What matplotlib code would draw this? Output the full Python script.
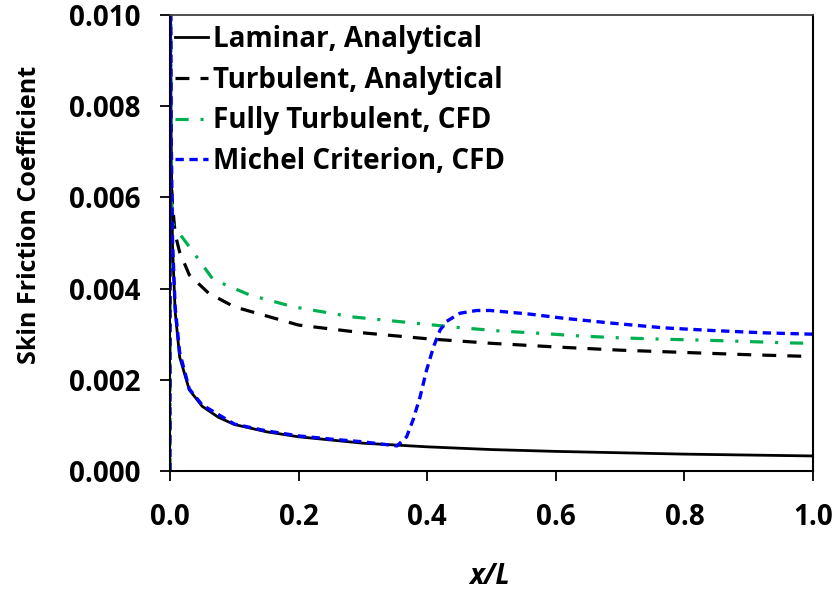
# Coeficiente de atrito: soluções analíticas vs. CFD ao longo da placa
import matplotlib.pyplot as plt

plt.rcParams["font.family"] = ["Open Sans", "DejaVu Sans"]
plt.rcParams["font.weight"] = "bold"
plt.rcParams["lines.scale_dashes"] = False

# valores
lam_x = [0.0005, 0.001, 0.002, 0.004, 0.008, 0.015, 0.03, 0.05, 0.075, 0.1,
         0.15, 0.2, 0.3, 0.4, 0.5, 0.6, 0.7, 0.8, 0.9, 1.0]
lam_cf = [0.0125, 0.0092, 0.0068, 0.0049, 0.0035, 0.0025, 0.00178, 0.00142, 0.00118, 0.00102,
          0.00086, 0.00075, 0.00061, 0.00053, 0.00047, 0.00043, 0.0004, 0.00037, 0.00035, 0.00033]

turb_x = [0.0001, 0.0003, 0.001, 0.003, 0.008, 0.015, 0.03, 0.06, 0.1, 0.15,
          0.2, 0.3, 0.4, 0.5, 0.6, 0.7, 0.8, 0.9, 1.0]
turb_cf = [0.0100, 0.0085, 0.0070, 0.0060, 0.0052, 0.0048, 0.0043, 0.0039, 0.0036, 0.0034,
           0.0032, 0.00303, 0.0029, 0.0028, 0.00272, 0.00265, 0.0026, 0.00255, 0.00251]

ft_x = [0.0, 0.0008, 0.002, 0.005, 0.015, 0.031, 0.067, 0.124, 0.192, 0.283,
        0.347, 0.446, 0.513, 0.575, 0.638, 0.7, 0.767, 0.829, 0.897, 0.959, 1.0]
ft_cf = [0.0, 0.0125, 0.0058, 0.0054, 0.0052, 0.0049, 0.0042, 0.00386, 0.0036, 0.00338,
         0.00329, 0.00315, 0.00307, 0.00302, 0.00296, 0.00292, 0.00289, 0.00287, 0.00284, 0.00281, 0.0028]

mc_x = [0.0, 0.0008, 0.002, 0.004, 0.008, 0.015, 0.03, 0.05, 0.1, 0.15,
        0.2, 0.25, 0.3, 0.353, 0.368, 0.378, 0.389, 0.399, 0.41, 0.42,
        0.43, 0.451, 0.477, 0.498, 0.56, 0.612, 0.689, 0.767, 0.845, 0.923, 1.0]
mc_cf = [0.0, 0.0125, 0.0072, 0.0050, 0.0036, 0.0026, 0.0018, 0.00145, 0.00103, 0.00088,
         0.00077, 0.0007, 0.00064, 0.00055, 0.00075, 0.00112, 0.00163, 0.00221, 0.00273, 0.00309,
         0.00328, 0.00346, 0.00352, 0.00352, 0.00344, 0.00335, 0.00324, 0.00314, 0.00308, 0.00303, 0.003]

labels = ["Laminar, Analytical", "Turbulent, Analytical",
          "Fully Turbulent, CFD", "Michel Criterion, CFD"]

fig = plt.figure(figsize=(8.39, 5.99), dpi=100)
ax = fig.add_axes([170 / 839, 128 / 599, 643 / 839, 456 / 599])

ax.plot(lam_x, lam_cf, color="black", linewidth=2.0, label=labels[0])
ax.plot(turb_x, turb_cf, color="black", linewidth=2.3, dashes=(10, 8), label=labels[1])
ax.plot(ft_x, ft_cf, color="#00B050", linewidth=2.3, dashes=(9.5, 8.5, 2.2, 8.5), label=labels[2])
ax.plot(mc_x, mc_cf, color="#0000FF", linewidth=2.4, dashes=(6, 4), label=labels[3])

ax.set_xlim(0, 1.0)
ax.set_ylim(0, 0.010)
ax.set_xticks([0.0, 0.2, 0.4, 0.6, 0.8, 1.0])
ax.set_yticks([0.000, 0.002, 0.004, 0.006, 0.008, 0.010])
ax.xaxis.set_major_formatter(plt.FormatStrFormatter("%.1f"))
ax.yaxis.set_major_formatter(plt.FormatStrFormatter("%.3f"))
ax.tick_params(axis="both", direction="out", length=7, width=1.3, labelsize=20, colors="black")
ax.tick_params(axis="y", pad=14)
ax.tick_params(axis="x", pad=16)

for side in ["left", "bottom", "right"]:
    ax.spines[side].set_color("black")
    ax.spines[side].set_linewidth(1.5)
ax.spines["top"].set_color("#404040")
ax.spines["top"].set_linewidth(1.3)

fig.text(490 / 839, 1 - 577 / 599, "x/L", ha="center", va="center",
         fontsize=20, fontstyle="italic", fontweight="bold")
fig.text(30 / 839, 1 - 215 / 599, "Skin Friction Coefficient", rotation=90,
         ha="center", va="center", fontsize=18, fontweight="bold")

ax.legend(loc="upper left", bbox_to_anchor=(0.008, 0.978), frameon=False,
          fontsize=20, handlelength=1.2, handletextpad=0.15, labelspacing=0.42,
          borderpad=0, borderaxespad=0)

fig.savefig("out.png", dpi=100, facecolor="white")
